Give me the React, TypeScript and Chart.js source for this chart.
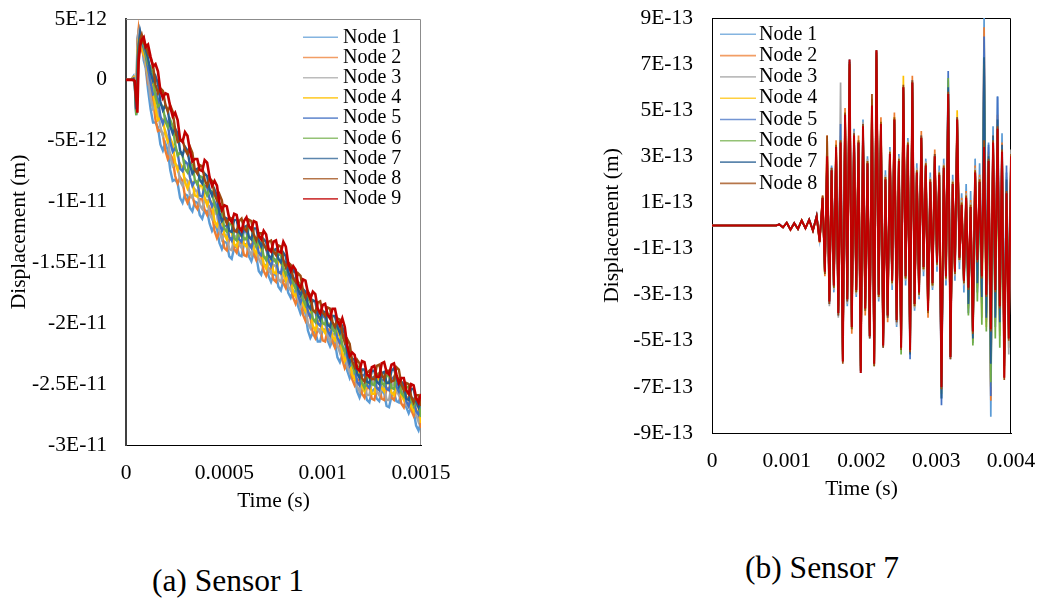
import React, { useEffect, useRef } from "react";
import { Chart, registerables } from "chart.js";

Chart.register(...registerables);

const FONT = '"Liberation Serif", "Times New Roman", serif';

const nodeNames = ["Node 1", "Node 2", "Node 3", "Node 4", "Node 5", "Node 6", "Node 7", "Node 8", "Node 9"];
const nodeColors = ["#5B9BD5", "#ED7D31", "#A5A5A5", "#FFC000", "#4472C4", "#70AD47", "#255E91", "#9E480E", "#C00000"];

// ---------- (a) Sensor 1 : time in microseconds, displacement in units of 1E-12 m ----------
const s1Time = [0, 25, 38, 45, 52, 58, 64, 72, 80, 90, 100, 112,
  125, 150, 175, 200, 225, 250, 275, 300, 325, 350, 375, 400, 425, 450, 475, 500, 525, 550, 575, 600,
  625, 650, 675, 700, 725, 750, 775, 800, 825, 850, 875, 900, 925, 950, 975, 1000, 1025, 1050, 1075, 1100,
  1125, 1150, 1175, 1200, 1225, 1250, 1275, 1300, 1325, 1350, 1375, 1400, 1425, 1450, 1475, 1500];
// intermediate samples (between the samples above)
const s1TimeMid = [137.5, 162.5, 187.5, 212.5, 237.5, 262.5, 287.5, 312.5, 337.5, 362.5, 387.5, 412.5, 437.5, 462.5,
  487.5, 512.5, 537.5, 562.5, 587.5, 612.5, 637.5, 662.5, 687.5, 712.5, 737.5, 762.5, 787.5, 812.5, 837.5, 862.5,
  887.5, 912.5, 937.5, 962.5, 987.5, 1012.5, 1037.5, 1062.5, 1087.5, 1112.5, 1137.5, 1162.5, 1187.5, 1212.5, 1237.5,
  1262.5, 1287.5, 1312.5, 1337.5, 1362.5, 1387.5, 1412.5, 1437.5, 1462.5, 1487.5];

const s1Node1 = [0, 0, 0.3, -0.6, -2.9, 3.4, 4.0, 2.6, 3.2, 1.6, 1.0, -0.8,
  -2.4, -3.5, -5.3, -5.2, -7.4, -8.2, -9.7, -9.4, -10.5, -10.0, -11.1, -10.7, -11.8, -12.0, -13.4, -13.3, -14.5, -13.8, -14.4, -13.5,
  -14.5, -14.2, -15.7, -15.2, -16.1, -16.0, -17.0, -16.5, -17.5, -17.3, -18.6, -18.7, -20.6, -20.8, -21.5, -20.5, -21.4, -21.4, -22.8, -22.6,
  -23.9, -24.0, -25.6, -25.5, -26.3, -25.6, -26.2, -25.6, -26.8, -26.0, -26.4, -25.6, -26.9, -26.9, -28.4, -28.1];
const s1Node1Mid = [-3.5, -3.9, -5.8, -5.8, -8.3, -8.5, -10.1, -9.5, -10.8, -10.1, -11.4, -10.8, -12.4, -12.2, -13.9, -13.4, -14.7, -13.6,
  -14.5, -13.5, -14.9, -14.5, -16.0, -15.2, -16.6, -16.0, -17.3, -16.5, -17.9, -17.5, -19.2, -19.2, -21.2, -20.7, -21.5, -20.5, -21.9,
  -21.6, -23.2, -22.8, -24.5, -24.3, -26.1, -25.4, -26.5, -25.4, -26.4, -25.7, -26.9, -25.7, -26.5, -25.8, -27.4, -27.2, -28.8];
const s1Node2 = [0, 0, 0.2, -0.4, -2.6, 3.0, 4.1, 3.0, 2.5, 2.0, 1.3, -0.3,
  -0.8, -3.3, -4.1, -5.8, -6.1, -7.9, -8.0, -9.6, -9.6, -10.3, -9.8, -10.7, -10.5, -12.4, -12.5, -13.8, -13.1, -13.9, -13.4, -14.4,
  -13.6, -14.3, -14.3, -15.7, -15.5, -16.4, -15.8, -16.7, -16.4, -17.9, -17.8, -19.3, -19.2, -20.8, -20.5, -21.4, -20.5, -21.5, -21.4, -23.0,
  -23.3, -24.6, -24.6, -25.8, -25.3, -26.2, -25.4, -26.2, -25.4, -26.1, -25.4, -26.6, -26.1, -27.1, -27.1, -28.6];
const s1Node2Mid = [-1.6, -4.2, -4.5, -6.5, -6.5, -8.5, -8.3, -10.1, -9.5, -10.6, -9.8, -11.1, -11.0, -13.0, -12.7, -14.0, -13.0, -14.2,
  -13.4, -14.5, -13.5, -14.8, -14.5, -16.1, -15.5, -16.6, -15.8, -17.1, -16.7, -18.4, -18.1, -19.8, -19.5, -21.2, -20.5, -21.5, -20.5,
  -22.0, -21.7, -23.7, -23.5, -25.1, -24.7, -26.1, -25.3, -26.3, -25.3, -26.3, -25.3, -26.3, -25.5, -26.9, -26.1, -27.6, -27.4];
const s1Node3 = [0, 0, 0.1, -0.5, -2.7, 2.6, 3.8, 3.3, 2.8, 2.3, 1.2, 0.2,
  -1.5, -2.2, -3.9, -4.2, -6.3, -6.9, -8.3, -8.1, -9.4, -9.0, -10.3, -9.8, -11.0, -10.8, -12.4, -12.7, -13.9, -13.0, -13.5, -13.0,
  -14.0, -13.7, -14.7, -14.5, -15.6, -15.2, -16.4, -15.8, -17.0, -16.6, -18.0, -18.3, -20.0, -19.8, -20.5, -20.0, -21.0, -20.9, -21.8, -21.9,
  -23.5, -23.5, -25.2, -25.0, -25.9, -24.9, -25.6, -25.2, -26.3, -25.2, -25.5, -25.3, -26.7, -26.1, -27.5, -27.6];
const s1Node3Mid = [-2.4, -2.6, -4.6, -4.8, -7.1, -7.1, -8.7, -8.3, -9.7, -9.2, -10.6, -9.9, -11.4, -11.1, -13.1, -12.8, -14.0, -12.8,
  -13.8, -13.0, -14.4, -13.7, -15.1, -14.6, -15.9, -15.3, -16.6, -15.9, -17.3, -16.8, -18.7, -18.7, -20.4, -19.7, -20.8, -20.0, -21.5,
  -20.9, -22.4, -22.2, -24.0, -23.9, -25.6, -25.0, -25.9, -24.8, -25.9, -25.3, -26.3, -24.9, -25.9, -25.5, -26.9, -26.3, -28.1];
const s1Node4 = [0, 0, 0.2, -0.3, -2.5, 2.2, 3.3, 3.6, 3.0, 2.1, 1.8, 0.6,
  0.1, -2.4, -3.1, -4.4, -4.8, -6.8, -6.9, -8.4, -8.3, -9.5, -8.7, -9.7, -9.8, -11.6, -11.4, -12.7, -12.5, -13.5, -12.9, -13.5,
  -12.9, -13.9, -13.6, -15.1, -14.8, -15.8, -14.9, -15.9, -16.0, -17.5, -17.1, -18.4, -18.6, -20.2, -19.9, -20.5, -20.0, -21.1, -20.7, -22.4,
  -22.7, -24.2, -23.9, -25.2, -25.0, -25.8, -24.7, -25.3, -24.9, -25.7, -25.0, -25.9, -25.7, -26.8, -26.6, -28.2];
const s1Node4Mid = [-0.7, -3.3, -3.3, -5.1, -5.3, -7.4, -7.2, -8.9, -8.4, -9.6, -8.7, -10.3, -10.2, -12.0, -11.6, -13.1, -12.5, -13.7,
  -12.7, -13.7, -12.9, -14.3, -13.9, -15.5, -14.8, -15.9, -14.9, -16.5, -16.3, -17.8, -17.3, -19.0, -18.9, -20.6, -19.7, -20.8, -20.1,
  -21.4, -21.1, -23.1, -23.0, -24.6, -24.1, -25.6, -24.9, -25.8, -24.5, -25.6, -24.8, -25.9, -25.0, -26.3, -25.8, -27.2, -26.9];
const s1Node5 = [0, 0, 0.1, -0.4, -2.8, 1.8, 3.0, 3.8, 3.1, 2.6, 2.0, 0.9,
  -0.2, -1.1, -3.0, -3.1, -5.1, -5.6, -7.3, -6.7, -8.0, -8.3, -9.5, -8.7, -9.8, -10.0, -11.7, -12.0, -12.9, -12.4, -13.1, -12.4,
  -13.5, -13.1, -14.2, -13.6, -14.9, -14.7, -15.8, -14.9, -16.1, -16.2, -17.7, -17.8, -19.0, -19.0, -20.0, -19.4, -20.6, -20.3, -21.2, -21.0,
  -22.8, -23.2, -24.8, -24.3, -25.1, -24.5, -25.3, -24.7, -25.4, -24.6, -25.2, -24.9, -26.4, -26.1, -27.2, -26.8];
const s1Node5Mid = [-1.2, -1.6, -3.6, -3.6, -5.9, -6.0, -7.5, -6.9, -8.7, -8.4, -9.6, -8.8, -10.4, -10.4, -12.4, -12.0, -13.2, -12.3,
  -13.3, -12.5, -13.8, -13.2, -14.4, -13.8, -15.3, -14.8, -15.9, -15.0, -16.7, -16.5, -18.3, -17.9, -19.5, -19.0, -20.2, -19.5, -21.0,
  -20.3, -21.6, -21.4, -23.5, -23.5, -25.1, -24.2, -25.3, -24.4, -25.5, -24.6, -25.5, -24.4, -25.6, -25.2, -26.8, -26.2, -27.5];
const s1Node6 = [0, 0, 0.0, -0.2, -2.9, 1.0, 2.8, 3.5, 3.6, 2.9, 2.2, 1.3,
  1.1, -1.4, -2.0, -3.4, -3.3, -5.3, -6.0, -7.3, -6.8, -8.2, -7.9, -9.0, -9.0, -10.3, -10.5, -12.2, -11.8, -13.0, -12.4, -13.1,
  -12.1, -13.2, -13.2, -14.5, -14.0, -14.7, -14.3, -15.4, -15.6, -16.7, -16.6, -18.0, -17.9, -19.6, -19.2, -20.0, -19.2, -20.4, -20.2, -21.8,
  -21.9, -23.4, -23.5, -24.9, -24.6, -25.0, -24.2, -24.9, -24.3, -25.3, -24.4, -25.7, -25.2, -26.3, -26.3, -27.7];
const s1Node6Mid = [0.4, -2.2, -2.2, -3.9, -3.8, -6.2, -6.2, -7.6, -7.0, -8.6, -8.0, -9.5, -9.2, -10.9, -10.9, -12.5, -11.9, -13.2,
  -12.3, -13.1, -12.2, -13.7, -13.4, -14.8, -13.9, -15.0, -14.4, -16.0, -15.7, -17.2, -16.8, -18.5, -18.3, -19.9, -19.1, -20.1, -19.3,
  -20.8, -20.5, -22.4, -22.2, -24.0, -23.7, -25.3, -24.3, -25.1, -24.1, -25.1, -24.3, -25.4, -24.6, -26.0, -25.3, -26.8, -26.5];
const s1Node7 = [0, 0, 0.1, -0.3, -2.4, 0.5, 2.5, 3.9, 3.2, 3.4, 2.5, 1.8,
  0.6, 0.3, -1.8, -2.1, -3.8, -4.0, -5.8, -5.5, -7.0, -7.4, -8.2, -7.7, -9.0, -9.0, -10.9, -11.3, -12.4, -11.5, -12.5, -12.1,
  -12.9, -12.2, -13.2, -13.1, -14.4, -14.0, -14.7, -14.2, -15.8, -15.6, -17.2, -17.2, -18.5, -18.1, -19.3, -19.0, -20.1, -19.4, -20.3, -20.3,
  -22.4, -22.9, -24.1, -23.8, -24.8, -23.9, -24.8, -24.1, -24.9, -23.9, -24.5, -24.8, -26.2, -25.4, -26.4, -26.3];
const s1Node7Mid = [-0.1, -0.3, -2.5, -2.5, -4.4, -4.4, -6.2, -5.8, -7.7, -7.3, -8.5, -7.9, -9.5, -9.5, -11.6, -11.4, -12.5, -11.5,
  -12.8, -12.0, -13.1, -12.2, -13.7, -13.3, -14.7, -13.9, -15.0, -14.5, -16.2, -15.9, -17.7, -17.4, -18.8, -18.2, -19.7, -19.1, -20.3,
  -19.4, -20.8, -20.9, -23.2, -23.0, -24.5, -23.8, -24.9, -23.9, -25.0, -24.0, -24.9, -23.7, -25.2, -25.0, -26.3, -25.4, -26.9];
const s1Node8 = [0, 0, 0.0, -0.2, -1.8, -0.8, 2.0, 3.3, 3.7, 3.0, 2.9, 2.2,
  1.8, -0.4, -0.7, -2.0, -2.1, -4.1, -5.0, -5.7, -5.5, -7.4, -7.0, -8.2, -8.1, -9.4, -9.4, -11.3, -11.3, -12.4, -11.6, -12.2,
  -11.5, -12.7, -12.6, -13.5, -13.3, -14.1, -13.6, -14.8, -15.0, -16.3, -15.9, -17.3, -17.4, -18.9, -18.3, -19.1, -18.7, -19.9, -19.6, -20.8,
  -21.3, -23.1, -23.0, -24.5, -24.1, -24.6, -23.5, -24.2, -23.9, -24.8, -23.6, -25.0, -24.9, -26.0, -25.9, -26.8];
const s1Node8Mid = [1.2, -1.1, -0.9, -2.6, -2.6, -5.1, -4.9, -6.1, -6.0, -7.7, -7.1, -8.7, -8.3, -9.9, -9.9, -11.8, -11.4, -12.5,
  -11.4, -12.4, -11.6, -13.2, -12.6, -13.9, -13.2, -14.4, -13.7, -15.4, -15.2, -16.6, -16.1, -17.9, -17.7, -19.1, -18.2, -19.4, -18.8,
  -20.3, -19.7, -21.6, -21.7, -23.6, -23.3, -24.8, -23.9, -24.6, -23.4, -24.6, -23.9, -24.7, -23.8, -25.5, -25.0, -26.5, -25.9];
const s1Node9 = [0, 0, 0.0, -0.1, -1.5, -2.7, 1.5, 2.8, 3.3, 3.5, 2.7, 2.9,
  1.9, 1.3, -0.9, -1.1, -2.2, -2.7, -4.9, -4.3, -5.8, -6.5, -7.4, -6.6, -8.0, -8.3, -10.1, -10.3, -11.4, -11.0, -12.1, -11.6,
  -12.0, -11.6, -12.8, -12.4, -13.9, -13.3, -14.1, -13.3, -15.1, -15.3, -16.8, -16.4, -17.5, -17.4, -18.8, -18.5, -19.3, -18.8, -19.8, -19.6,
  -21.9, -22.4, -23.7, -23.1, -24.2, -23.6, -24.4, -23.3, -24.0, -23.4, -24.2, -24.5, -25.5, -25.0, -26.1, -25.8];
const s1Node9Mid = [1.1, 0.7, -1.5, -1.2, -3.0, -3.3, -5.1, -4.6, -6.7, -6.5, -7.5, -6.8, -8.7, -8.7, -10.7, -10.4, -11.7, -11.1,
  -12.4, -11.3, -12.3, -11.7, -13.1, -12.7, -14.1, -13.2, -14.2, -13.7, -15.7, -15.6, -17.1, -16.5, -18.0, -17.6, -19.2, -18.4, -19.6,
  -18.8, -20.2, -20.3, -22.7, -22.6, -23.9, -23.2, -24.4, -23.5, -24.4, -23.2, -24.2, -23.3, -24.9, -24.5, -25.8, -25.1, -26.5];

const s1XTicks = [0, 500, 1000, 1500];
const s1XLabels = ["0", "0.0005", "0.001", "0.0015"];
const s1YTicks = [5, 0, -5, -10, -15, -20, -25, -30];
const s1YLabels = ["5E-12", "0", "-5E-12", "-1E-11", "-1.5E-11", "-2E-11", "-2.5E-11", "-3E-11"];

// ---------- (b) Sensor 7 : time in milliseconds, displacement in units of 1E-13 m ----------
const s7Time = [0, 0.86, 0.9, 0.95, 1, 1.05, 1.1, 1.15, 1.2, 1.25, 1.3, 1.35, 1.4, 1.44,
  1.48, 1.51, 1.54, 1.57, 1.6, 1.63, 1.66, 1.69, 1.72, 1.75, 1.78, 1.81, 1.84, 1.87, 1.9, 1.93, 1.96, 1.99,
  2.02, 2.05, 2.08, 2.11, 2.14, 2.17, 2.2, 2.23, 2.26, 2.29, 2.32, 2.35, 2.38, 2.41, 2.44, 2.47, 2.5, 2.53, 2.56, 2.59,
  2.62, 2.65, 2.68, 2.71, 2.74, 2.77, 2.8, 2.83, 2.86, 2.89, 2.92, 2.95, 2.98,
  3.01, 3.04, 3.07, 3.1, 3.13, 3.16, 3.19, 3.22, 3.25, 3.28, 3.31, 3.34, 3.37, 3.4, 3.43, 3.46, 3.49, 3.52, 3.55, 3.58,
  3.61, 3.64, 3.67, 3.7, 3.73, 3.76, 3.79, 3.82, 3.85, 3.88, 3.91, 3.94, 3.97, 4];

const s7Node1 = [0, 0, 0.06, -0.09, 0.13, -0.17, 0.11, -0.16, 0.21, -0.13, 0.27, -0.2, 0.45, -0.6,
  1.0, -1.8, 2.7, -3.0, 2.6, -2.9, 3.1, -3.5, 3.9, -5.4, 4.4, -3.5, 6.6, -4.0, 4.2, -3.1, 3.2, -5.9, 4.6, -3.2,
  3.0, -4.4, 4.8, -5.6, 7.0, -3.3, 4.0, -4.8, 2.4, -3.5, 3.4, -2.8, 4.2, -4.4, 3.1, -4.9, 5.6, -2.6, 3.8, -5.0,
  5.8, -3.7, 2.7, -3.2, 3.4, -2.2, 2.9, -3.3, 2.3, -2.8, 2.6, -2.0, 2.6, -7.5, 2.9, -2.6, 6.3, -5.3, 2.2, -2.4,
  4.2, -1.9, 1.4, -2.9, 1.8, -3.3, 1.5, -5.1, 2.9, -2.3, 2.7, -3.2, 9.0, -4.1, 3.6, -8.3, 4.3, -3.9, 5.6, -4.6,
  4.0, -5.8, 2.3, -4.0, 1.6];
const s7Node2 = [0, 0, 0.04, -0.07, 0.11, -0.19, 0.09, -0.14, 0.23, -0.11, 0.24, -0.23, 0.38, -0.75,
  1.3, -2.2, 3.9, -3.1, 2.1, -2.4, 3.7, -3.5, 3.3, -5.6, 5.1, -2.9, 6.8, -4.7, 3.6, -2.6, 3.9, -6.1, 4.0, -3.9,
  2.4, -4.5, 5.5, -5.7, 7.3, -2.7, 4.7, -4.9, 1.7, -4.2, 2.8, -2.1, 4.9, -3.8, 2.5, -5.0, 5.7, -1.9, 3.2, -5.1,
  6.5, -3.1, 2.0, -2.6, 4.1, -1.5, 2.3, -4.0, 1.6, -2.2, 3.3, -1.3, 1.9, -6.7, 2.2, -1.9, 5.4, -5.4, 1.5, -1.7,
  4.3, -1.1, 1.2, -2.1, 1.5, -3.0, 1.1, -4.3, 2.6, -1.8, 2.2, -2.6, 8.6, -3.6, 3.2, -7.6, 3.9, -3.3, 4.8, -4.1,
  3.6, -6.2, 1.9, -5.3, 2.5];
const s7Node3 = [0, 0, 0.05, -0.08, 0.12, -0.16, 0.1, -0.15, 0.2, -0.12, 0.26, -0.21, 0.42, -0.65,
  1.1, -1.9, 2.8, -3.5, 2.5, -2.8, 3.2, -4.0, 6.2, -5.6, 4.5, -3.4, 6.9, -4.2, 4.1, -3.0, 3.4, -6.1, 4.5, -3.4,
  2.9, -4.6, 5.0, -5.8, 7.2, -3.2, 4.2, -5.0, 2.2, -3.7, 3.3, -2.6, 4.4, -4.3, 3.0, -5.1, 5.8, -2.4, 3.7, -5.2,
  6.0, -3.6, 2.5, -3.1, 3.6, -2.0, 2.8, -3.5, 2.1, -2.7, 2.8, -1.8, 2.4, -6.8, 2.7, -2.4, 5.5, -5.5, 2.0, -2.2,
  4.4, -1.6, 1.1, -2.6, 1.4, -3.5, 1.0, -4.8, 2.5, -2.6, 2.1, -3.6, 7.5, -4.2, 3.4, -7.0, 3.8, -3.6, 4.6, -3.9,
  3.4, -6.0, 2.1, -5.6, 3.3];
const s7Node4 = [0, 0, 0.05, -0.09, 0.13, -0.18, 0.1, -0.16, 0.22, -0.13, 0.25, -0.22, 0.41, -0.68,
  1.2, -2.1, 3.1, -3.2, 2.3, -2.7, 3.5, -3.7, 3.5, -5.7, 4.9, -3.1, 7.0, -4.5, 3.8, -2.9, 3.7, -6.2, 4.2, -3.7,
  2.8, -4.7, 5.3, -5.9, 7.4, -3.1, 4.5, -5.1, 2.1, -3.8, 3.2, -2.5, 4.7, -4.0, 2.9, -5.4, 6.5, -2.3, 3.6, -5.3,
  6.1, -3.5, 2.4, -3.0, 3.7, -1.9, 2.7, -3.8, 2.0, -2.6, 2.9, -1.7, 2.3, -5.7, 2.6, -2.3, 5.6, -5.6, 1.9, -2.1,
  5.0, -1.5, 1.0, -2.5, 1.3, -3.6, 0.9, -5.0, 2.4, -2.7, 2.0, -4.0, 6.4, -4.4, 3.1, -7.0, 3.7, -4.2, 4.4, -4.8,
  3.3, -5.4, 1.7, -3.2, 2.8];
const s7Node5 = [0, 0, 0.06, -0.08, 0.12, -0.17, 0.11, -0.15, 0.21, -0.12, 0.26, -0.21, 0.43, -0.62,
  1.1, -2.0, 2.9, -3.4, 2.5, -2.5, 3.3, -3.9, 4.4, -5.8, 4.7, -3.3, 7.1, -4.3, 4.0, -2.7, 3.5, -6.3, 4.4, -3.5,
  2.6, -4.9, 5.1, -5.9, 7.5, -2.9, 4.3, -5.3, 1.9, -4.0, 3.0, -2.3, 4.5, -4.2, 2.7, -5.4, 5.9, -2.1, 3.4, -5.8,
  6.3, -3.3, 2.2, -2.8, 3.9, -1.7, 2.5, -3.6, 1.8, -2.4, 3.1, -1.5, 2.1, -7.8, 2.4, -2.1, 6.7, -5.8, 1.7, -1.9,
  4.7, -1.3, 0.8, -2.3, 1.1, -3.8, 0.7, -4.7, 2.2, -2.9, 1.8, -3.4, 8.2, -3.8, 3.5, -7.4, 3.5, -4.4, 5.6, -3.7,
  3.1, -5.0, 2.6, -4.5, 2.7];
const s7Node6 = [0, 0, 0.05, -0.07, 0.11, -0.18, 0.1, -0.14, 0.22, -0.11, 0.25, -0.22, 0.39, -0.7,
  1.2, -2.1, 3.0, -3.2, 2.4, -2.7, 3.4, -3.7, 3.7, -5.8, 4.8, -3.2, 7.1, -4.5, 3.9, -2.9, 3.6, -6.3, 4.3, -3.7,
  2.7, -4.8, 5.2, -6.1, 7.5, -3.0, 4.4, -5.1, 2.0, -3.9, 3.1, -2.5, 4.6, -4.1, 2.8, -5.6, 6.0, -2.3, 3.5, -5.5,
  6.2, -3.4, 2.3, -3.0, 3.8, -1.9, 2.6, -3.7, 1.9, -2.6, 3.0, -1.7, 2.2, -7.3, 2.5, -2.3, 6.4, -5.7, 1.8, -2.1,
  4.6, -1.5, 0.9, -2.5, 1.2, -3.9, 0.8, -5.2, 2.3, -3.3, 1.9, -4.3, 7.0, -4.6, 2.7, -6.8, 3.3, -4.9, 4.0, -5.3,
  2.9, -5.7, 1.2, -3.6, 3.1];
const s7Node7 = [0, 0, 0.05, -0.08, 0.12, -0.18, 0.1, -0.15, 0.22, -0.12, 0.25, -0.22, 0.4, -0.69,
  1.2, -2.0, 3.0, -3.3, 2.4, -2.6, 3.4, -3.8, 3.6, -5.9, 4.8, -3.2, 7.2, -4.4, 3.9, -2.8, 3.6, -6.4, 4.3, -3.6,
  2.7, -4.8, 5.2, -6.0, 7.6, -3.0, 4.4, -5.2, 2.0, -3.9, 3.1, -2.4, 4.6, -4.1, 2.8, -5.3, 6.0, -2.2, 3.5, -5.6,
  6.2, -3.4, 2.3, -2.9, 3.8, -1.8, 2.6, -3.7, 1.9, -2.5, 3.0, -1.6, 2.2, -7.5, 2.5, -2.2, 6.0, -5.7, 1.8, -2.0,
  4.6, -1.4, 0.9, -2.4, 1.2, -3.4, 0.8, -4.9, 2.3, -2.5, 1.9, -3.1, 7.3, -4.0, 3.0, -6.0, 3.9, -4.0, 4.6, -4.2,
  3.5, -6.1, 2.0, -4.3, 2.9];
const s7Node8 = [0, 0, 0.05, -0.08, 0.12, -0.18, 0.1, -0.15, 0.22, -0.12, 0.25, -0.22, 0.4, -0.71,
  1.3, -2.1, 3.9, -3.4, 2.5, -2.7, 3.5, -3.9, 3.7, -6.0, 4.9, -3.3, 7.0, -4.5, 4.0, -2.9, 3.7, -6.3, 4.4, -3.7,
  2.8, -4.9, 5.7, -6.1, 7.6, -3.1, 4.5, -5.3, 2.1, -4.0, 3.2, -2.5, 4.7, -4.2, 2.9, -5.4, 6.1, -2.3, 3.6, -5.5,
  6.3, -3.5, 2.4, -3.0, 3.9, -1.9, 2.7, -3.8, 2.0, -2.6, 3.1, -1.7, 2.3, -7.1, 2.6, -2.3, 5.8, -5.8, 1.9, -2.1,
  4.7, -1.5, 1.0, -2.5, 1.3, -2.8, 0.9, -4.7, 2.4, -1.6, 2.0, -2.3, 3.7, -3.1, 2.9, -4.6, 3.7, -2.9, 4.3, -3.6,
  3.3, -6.7, 1.5, -5.0, 3.1];
const s7Node9 = [0, 0, 0.05, -0.08, 0.12, -0.18, 0.1, -0.15, 0.22, -0.12, 0.25, -0.22, 0.4, -0.7,
  1.2, -2.0, 3.0, -3.3, 2.4, -2.6, 3.4, -3.8, 3.6, -5.9, 4.8, -3.2, 7.2, -4.4, 3.9, -2.8, 3.6, -6.4, 4.3, -3.6,
  2.7, -4.8, 5.2, -6.0, 7.6, -3.0, 4.4, -5.2, 2.0, -3.9, 3.1, -2.4, 4.6, -4.1, 2.8, -5.3, 6.0, -2.2, 3.5, -5.4,
  6.2, -3.4, 2.3, -2.9, 3.8, -1.8, 2.6, -3.7, 1.9, -2.5, 3.0, -1.6, 2.2, -7.0, 2.5, -2.2, 5.7, -5.7, 1.8, -2.0,
  4.6, -1.4, 0.9, -2.4, 1.2, -2.7, 0.8, -4.6, 2.3, -1.5, 1.9, -2.2, 3.4, -3.0, 2.8, -4.5, 3.6, -2.8, 4.2, -3.5,
  3.2, -6.6, 1.4, -4.9, 3.0];

const s7XTicks = [0, 1, 2, 3, 4];
const s7XLabels = ["0", "0.001", "0.002", "0.003", "0.004"];
const s7YTicks = [9, 7, 5, 3, 1, -1, -3, -5, -7, -9];
const s7YLabels = ["9E-13", "7E-13", "5E-13", "3E-13", "1E-13", "-1E-13", "-3E-13", "-5E-13", "-7E-13", "-9E-13"];

type Pt = { x: number; y: number };

function toPoints(times: number[], vals: number[], extraTimes?: number[], extraVals?: number[]): Pt[] {
  const pts: Pt[] = vals.map((v, j) => ({ x: times[j], y: v }));
  if (extraTimes && extraVals) {
    extraVals.forEach((v, j) => pts.push({ x: extraTimes[j], y: v }));
    pts.sort((a, b) => a.x - b.x);
  }
  return pts;
}

type PanelSpec = {
  left: number; top: number; width: number; height: number;
  lines: Pt[][]; lineWidths: number[];
  xMin: number; xMax: number; xTicks: number[]; xLabels: string[];
  yMin: number; yMax: number; yTicks: number[]; yLabels: string[];
  padding: { left: number; right: number; top: number; bottom: number };
  yAxisWidth: number; xAxisHeight: number;
  yTitlePad: number; xTitlePad: number; xTickPad: number; yTickPad: number;
  legendCount: number; legendLine0: number; legendLine1: number; legendText: number; legendTop: number; legendStep: number;
  frameColor: string; yBorderColor: string; yBorderWidth: number; xBorderColor: string;
};

const panelA: PanelSpec = {
  left: 0, top: 0, width: 470, height: 530,
  lines: [
    toPoints(s1Time, s1Node1, s1TimeMid, s1Node1Mid),
    toPoints(s1Time, s1Node2, s1TimeMid, s1Node2Mid),
    toPoints(s1Time, s1Node3, s1TimeMid, s1Node3Mid),
    toPoints(s1Time, s1Node4, s1TimeMid, s1Node4Mid),
    toPoints(s1Time, s1Node5, s1TimeMid, s1Node5Mid),
    toPoints(s1Time, s1Node6, s1TimeMid, s1Node6Mid),
    toPoints(s1Time, s1Node7, s1TimeMid, s1Node7Mid),
    toPoints(s1Time, s1Node8, s1TimeMid, s1Node8Mid),
    toPoints(s1Time, s1Node9, s1TimeMid, s1Node9Mid),
  ],
  lineWidths: [2.4, 2.4, 2.4, 2.4, 2.4, 2.4, 2.4, 2.4, 2.6],
  xMin: 0, xMax: 1500, xTicks: s1XTicks, xLabels: s1XLabels,
  yMin: -30, yMax: 5, yTicks: s1YTicks, yLabels: s1YLabels,
  padding: { left: 0, right: 49, top: 19, bottom: 0 },
  yAxisWidth: 126, xAxisHeight: 85,
  yTitlePad: 6, xTitlePad: 16, xTickPad: 15, yTickPad: 19,
  legendCount: 9, legendLine0: 177, legendLine1: 212, legendText: 217, legendTop: 18.3, legendStep: 20.2,
  frameColor: "#8c8c8c", yBorderColor: "#404040", yBorderWidth: 2, xBorderColor: "#000000",
};

const panelB: PanelSpec = {
  left: 590, top: 0, width: 448, height: 520,
  lines: [s7Node1, s7Node2, s7Node3, s7Node4, s7Node5, s7Node6, s7Node7, s7Node8, s7Node9].map((vals) => toPoints(s7Time, vals)),
  lineWidths: [1.7, 1.7, 1.7, 1.7, 1.7, 1.7, 1.7, 1.7, 2.0],
  xMin: 0, xMax: 4, xTicks: s7XTicks, xLabels: s7XLabels,
  yMin: -9, yMax: 9, yTicks: s7YTicks, yLabels: s7YLabels,
  padding: { left: 0, right: 27, top: 18, bottom: 0 },
  yAxisWidth: 122, xAxisHeight: 87,
  yTitlePad: 9, xTitlePad: 18, xTickPad: 15, yTickPad: 19,
  legendCount: 8, legendLine0: 8, legendLine1: 44, legendText: 47, legendTop: 16.3, legendStep: 21.3,
  frameColor: "#000000", yBorderColor: "#000000", yBorderWidth: 1, xBorderColor: "#000000",
};

function ChartPanel({ spec }: { spec: PanelSpec }) {
  const ref = useRef<HTMLCanvasElement | null>(null);

  useEffect(() => {
    const canvas = ref.current;
    if (!canvas) return;
    const n = spec.lines.length;
    const datasets = spec.lines.map((pts, i) => ({
      label: nodeNames[i],
      data: pts,
      borderColor: nodeColors[i],
      backgroundColor: nodeColors[i],
      borderWidth: spec.lineWidths[i],
      borderJoinStyle: "miter",
      pointRadius: 0,
      tension: 0,
      fill: false,
      order: n - i,
    }));

    const framePlugin = {
      id: "frame",
      beforeDatasetsDraw(chart: any) {
        const { ctx, chartArea } = chart;
        const l = Math.round(chartArea.left), t = Math.round(chartArea.top);
        const r = Math.round(chartArea.right), b = Math.round(chartArea.bottom);
        ctx.save();
        ctx.strokeStyle = spec.frameColor;
        ctx.lineWidth = 1;
        ctx.beginPath();
        ctx.moveTo(l, t + 0.5);
        ctx.lineTo(r - 0.5, t + 0.5);
        ctx.lineTo(r - 0.5, b);
        ctx.stroke();
        ctx.restore();
      },
    };

    const legendPlugin = {
      id: "nodeLegend",
      afterDraw(chart: any) {
        const { ctx, chartArea } = chart;
        ctx.save();
        ctx.font = `20px ${FONT}`;
        ctx.textBaseline = "middle";
        ctx.textAlign = "left";
        for (let i = 0; i < spec.legendCount; i++) {
          const y = chartArea.top + spec.legendTop + i * spec.legendStep;
          ctx.globalAlpha = 0.75;
          ctx.strokeStyle = nodeColors[i];
          ctx.lineWidth = 1.6;
          ctx.beginPath();
          ctx.moveTo(chartArea.left + spec.legendLine0, y);
          ctx.lineTo(chartArea.left + spec.legendLine1, y);
          ctx.stroke();
          ctx.globalAlpha = 1;
          ctx.fillStyle = "#000";
          ctx.fillText(nodeNames[i], chartArea.left + spec.legendText, y);
        }
        ctx.restore();
      },
    };

    const tickFont = { family: FONT, size: 21.5 };

    const chart = new Chart(canvas, {
      type: "line",
      data: { datasets },
      options: {
        animation: false,
        responsive: false,
        events: [],
        layout: { padding: spec.padding, autoPadding: false },
        plugins: { legend: { display: false }, tooltip: { enabled: false } },
        scales: {
          x: {
            type: "linear",
            min: spec.xMin,
            max: spec.xMax,
            afterBuildTicks: (s: any) => { s.ticks = spec.xTicks.map((v) => ({ value: v })); },
            afterFit: (s: any) => {
              s.height = spec.xAxisHeight;
              s.paddingLeft = 0; s.paddingRight = 0; s.paddingTop = 0; s.paddingBottom = 0;
            },
            ticks: {
              callback: (_v: any, i: number) => spec.xLabels[i],
              font: tickFont, color: "#000", padding: spec.xTickPad, autoSkip: false, maxRotation: 0,
            },
            grid: { display: false, drawTicks: false },
            border: { display: true, color: spec.xBorderColor, width: 1 },
            title: {
              display: true, text: "Time (s)", color: "#000", font: tickFont,
              padding: { top: 0, bottom: spec.xTitlePad },
            },
          },
          y: {
            type: "linear",
            min: spec.yMin,
            max: spec.yMax,
            afterBuildTicks: (s: any) => { s.ticks = spec.yTicks.map((v) => ({ value: v })); },
            afterFit: (s: any) => {
              s.width = spec.yAxisWidth;
              s.paddingLeft = 0; s.paddingRight = 0; s.paddingTop = 0; s.paddingBottom = 0;
            },
            ticks: {
              callback: (_v: any, i: number) => spec.yLabels[i],
              font: tickFont, color: "#000", padding: spec.yTickPad, autoSkip: false,
            },
            grid: { display: false, drawTicks: false },
            border: { display: true, color: spec.yBorderColor, width: spec.yBorderWidth },
            title: {
              display: true, text: "Displacement (m)", color: "#000", font: tickFont,
              padding: { top: spec.yTitlePad, bottom: 0 },
            },
          },
        },
      } as any,
      plugins: [framePlugin, legendPlugin],
    });
    return () => chart.destroy();
  }, [spec]);

  return (
    <canvas
      ref={ref}
      width={spec.width}
      height={spec.height}
      style={{ position: "absolute", left: spec.left, top: spec.top, width: spec.width, height: spec.height }}
    />
  );
}

const captionStyle: React.CSSProperties = {
  position: "absolute",
  transform: "translate(-50%, -50%)",
  fontFamily: FONT,
  fontSize: 31.5,
  lineHeight: 1.15,
  whiteSpace: "nowrap",
  color: "#000",
};

export default function App() {
  return (
    <div style={{ position: "absolute", left: 0, top: 0, width: 1038, height: 598, background: "#fff", overflow: "hidden" }}>
      <ChartPanel spec={panelA} />
      <ChartPanel spec={panelB} />
      <div style={{ ...captionStyle, left: 228, top: 581 }}>(a) Sensor 1</div>
      <div style={{ ...captionStyle, left: 822, top: 568 }}>(b) Sensor 7</div>
    </div>
  );
}
